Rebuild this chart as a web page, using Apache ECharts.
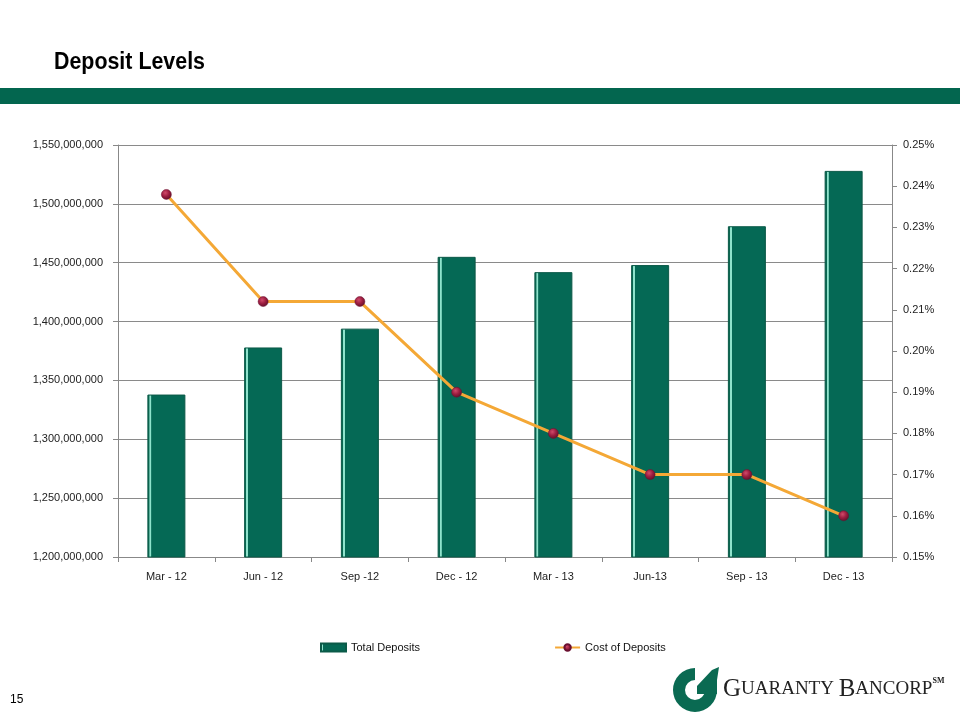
<!DOCTYPE html>
<html><head><meta charset="utf-8">
<script src="https://cdn.jsdelivr.net/npm/echarts@6/dist/echarts.min.js"></script>
<style>html,body{margin:0;padding:0;background:#fff}#c{width:960px;height:720px}</style>
</head><body><div id="c"></div>
<script>
var categories = ['Mar - 12','Jun - 12','Sep -12','Dec - 12','Mar - 13','Jun-13','Sep - 13','Dec - 13'];
var totalDeposits = [1338000000,1378000000,1394000000,1455000000,1442000000,1448000000,1481000000,1528000000];
var costOfDeposits = [0.238,0.212,0.212,0.190,0.180,0.170,0.170,0.160];

var chart = echarts.init(document.getElementById('c'), null, {renderer:'canvas'});
function fmtNum(v){return String(Math.round(v)).replace(/\B(?=(\d{3})+(?!\d))/g, ',');}
var barColor = {type:'linear',x:0,y:0,x2:1,y2:0,colorStops:[
  {offset:0,color:'#0a6650'},{offset:0.05,color:'#0a6650'},{offset:0.06,color:'#8fe3cc'},{offset:0.1,color:'#8fe3cc'},{offset:0.11,color:'#056955'},{offset:0.94,color:'#056955'},{offset:1,color:'#0b5e4b'}]};
var markerColor = {type:'radial',x:0.4,y:0.35,r:0.7,colorStops:[
  {offset:0,color:'#d04a6a'},{offset:0.5,color:'#9c1d40'},{offset:1,color:'#5a0f28'}]};
var option = {
  animation:false,
  backgroundColor:'#fff',
  textStyle:{fontFamily:'Liberation Sans, Arial, sans-serif'},
  grid:{left:118,right:68,top:145,bottom:163},
  legend:{
    left:315, top:637, itemGap:134, itemWidth:25, itemHeight:8,
    textStyle:{fontSize:11,color:'#111',fontFamily:'Liberation Sans, Arial, sans-serif'},
    data:[{name:'Total Deposits',icon:'rect'},{name:'Cost of Deposits'}]
  },
  xAxis:{
    type:'category', data:categories,
    axisLine:{lineStyle:{color:'#888'}},
    axisTick:{show:true,length:5,lineStyle:{color:'#888'}},
    axisLabel:{fontSize:11,color:'#222',margin:14}
  },
  yAxis:[{
    type:'value', min:1200000000, max:1550000000, interval:50000000,
    axisLine:{show:true,lineStyle:{color:'#888'}},
    axisTick:{show:true,length:5,lineStyle:{color:'#888'}},
    splitLine:{show:true,lineStyle:{color:'#8a8a8a',width:1}},
    axisLabel:{fontSize:11,color:'#222',margin:15,formatter:fmtNum}
  },{
    type:'value', min:0.15, max:0.25, interval:0.01, position:'right',
    axisLine:{show:true,lineStyle:{color:'#888'}},
    axisTick:{show:true,length:5,lineStyle:{color:'#888'}},
    splitLine:{show:false},
    axisLabel:{fontSize:11,color:'#222',margin:11,formatter:function(v){return v.toFixed(2)+'%';}}
  }],
  series:[{
    name:'Total Deposits', type:'bar', yAxisIndex:0, data:totalDeposits, barWidth:38,
    itemStyle:{color:barColor,borderColor:'#0b5a48',borderWidth:1}
  },{
    name:'Cost of Deposits', type:'line', yAxisIndex:1, data:costOfDeposits,
    symbol:'circle', symbolSize:10,
    lineStyle:{color:'#f4a836',width:3},
    itemStyle:{color:markerColor,borderColor:'#6a1030',borderWidth:0.5}
  }],
  graphic:[
    {type:'text',x:54,y:51,scaleX:0.93,style:{text:'Deposit Levels',font:'bold 23px Liberation Sans, Arial, sans-serif',fill:'#000'}},
    {type:'rect',shape:{x:0,y:88,width:960,height:16},style:{fill:'#03664f'}},
    {type:'text',x:10,y:694,style:{text:'15',font:'12px Liberation Sans, Arial, sans-serif',fill:'#000'}},
    {type:'sector',shape:{cx:695,cy:690,r:22,r0:10,startAngle:0,endAngle:Math.PI*1.5,clockwise:true},style:{fill:'#0a6a52'}},
    {type:'polygon',shape:{points:[[697,686],[712,670],[719,667],[717,680],[717,694],[697,694]]},style:{fill:'#0a6a52'}},
    {type:'text',x:723,y:677,style:{
      rich:{b:{font:'25px Liberation Serif, Times New Roman, serif',fill:'#222'},s:{font:'19px Liberation Serif, Times New Roman, serif',fill:'#222'},sm:{font:'bold 8px Liberation Serif, serif',fill:'#222',verticalAlign:'top'}},
      text:'{b|G}{s|UARANTY }{b|B}{s|ANCORP}{sm|SM}'}}
  ]
};
chart.setOption(option);
</script></body></html>
